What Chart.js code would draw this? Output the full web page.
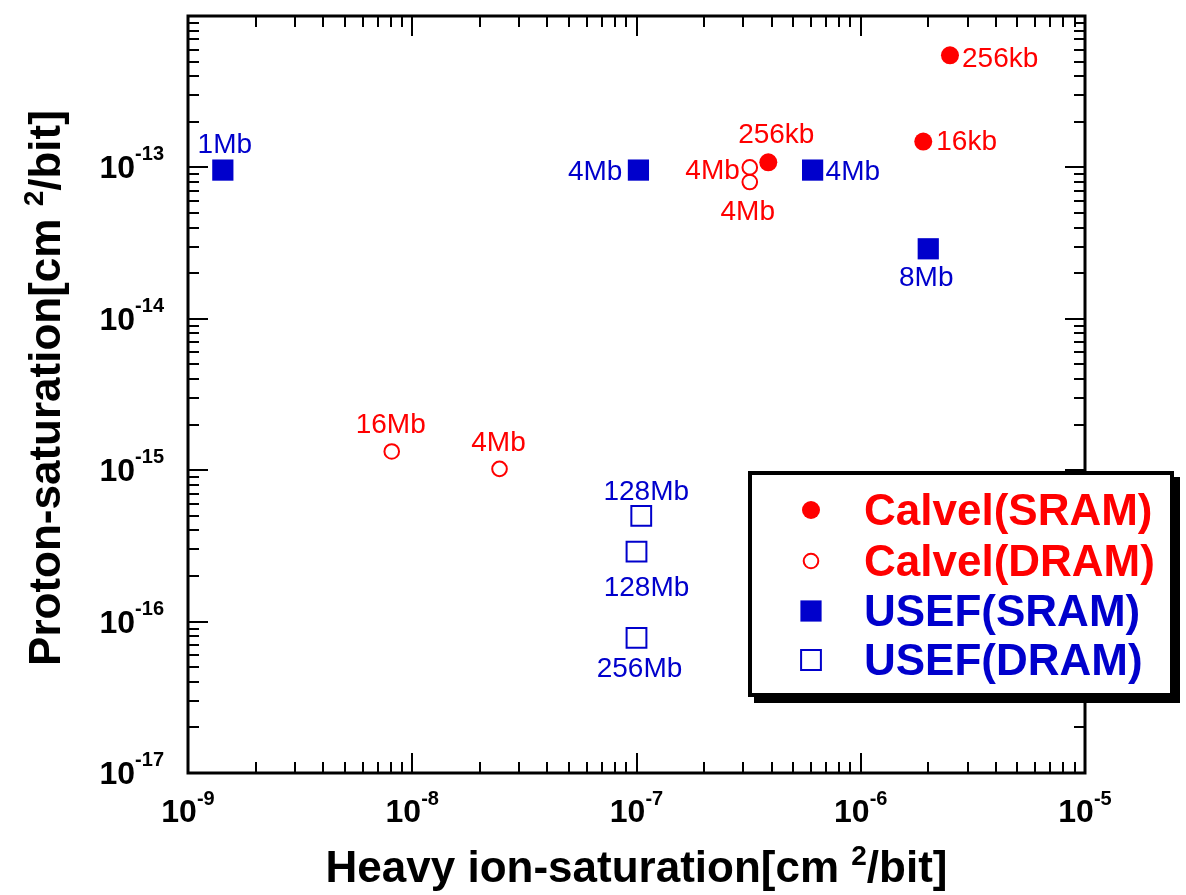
<!DOCTYPE html>
<html>
<head>
<meta charset="utf-8">
<script src="https://cdn.jsdelivr.net/npm/chart.js@4.4.1/dist/chart.umd.min.js"></script>
<style>
  html, body { margin: 0; padding: 0; background: #ffffff; }
  canvas { display: block; }
</style>
</head>
<body>
<canvas id="chart" width="1186" height="895"></canvas>
<script>
// ---- data -------------------------------------------------------------
const seriesNames = ['Calvel(SRAM)', 'Calvel(DRAM)', 'USEF(SRAM)', 'USEF(DRAM)'];

// heavy-ion saturation cross-section [cm^2/bit]
const calvelSramX = [2.50e-6, 1.90e-6, 3.87e-7];
const calvelDramX = [3.2e-7, 3.2e-7, 8.1e-9, 2.45e-8];
const usefSramX   = [1.43e-9, 1.02e-7, 6.1e-7, 2.0e-6];
const usefDramX   = [1.05e-7, 1.0e-7, 1.0e-7];

// proton saturation cross-section [cm^2/bit]
const calvelSramY = [5.5e-13, 1.48e-13, 1.08e-13];
const calvelDramY = [1.0e-13, 8.0e-14, 1.33e-15, 1.02e-15];
const usefSramY   = [9.6e-14, 9.6e-14, 9.6e-14, 2.9e-14];
const usefDramY   = [5.0e-16, 2.9e-16, 7.8e-17];

// device density of each point
const calvelSramNames = ['256kb', '16kb', '256kb'];
const calvelDramNames = ['4Mb', '4Mb', '16Mb', '4Mb'];
const usefSramNames   = ['1Mb', '4Mb', '4Mb', '8Mb'];
const usefDramNames   = ['128Mb', '128Mb', '256Mb'];

// axis decades (powers of ten) and their tick labels
const xDecades = [-9, -8, -7, -6, -5];
const yDecades = [-17, -16, -15, -14, -13, -12];
const xTickLabels = ['-9', '-8', '-7', '-6', '-5'];
const yTickLabels = ['-17', '-16', '-15', '-14', '-13'];

const xTitle = ['Heavy ion-saturation[cm ', '2', '/bit]'];
const yTitle = ['Proton-saturation[cm ', '2', '/bit]'];

// ---- styling ----------------------------------------------------------
const RED = '#ff0000';
const BLUE = '#0000cc';
const FONT = '"Liberation Sans", Arial, Helvetica, sans-serif';

// label placement around each marker: [dx, dy, align]
const labelPlacement = [
  [[12, 12, 'left'], [13, 8, 'left'], [8, -19, 'center']],
  [[-10, 12, 'right'], [-2, 38, 'center'], [-1, -18, 'center'], [-1, -18, 'center']],
  [[2, -17, 'center'], [-16, 10, 'right'], [13, 10, 'left'], [-2, 37, 'center']],
  [[5, -16, 'center'], [10, 44, 'center'], [3, 39, 'center']]
];
const pointNames = [calvelSramNames, calvelDramNames, usefSramNames, usefDramNames];

function toPoints(xs, ys) {
  return xs.map((x, i) => ({ x: x, y: ys[i] }));
}

const datasets = [
  { label: seriesNames[0], data: toPoints(calvelSramX, calvelSramY),
    pointStyle: 'circle', pointRadius: 9, borderWidth: 0,
    backgroundColor: RED, borderColor: RED, color: RED },
  { label: seriesNames[1], data: toPoints(calvelDramX, calvelDramY),
    pointStyle: 'circle', pointRadius: 7.3, borderWidth: 2,
    backgroundColor: 'rgba(0,0,0,0)', borderColor: RED, color: RED },
  { label: seriesNames[2], data: toPoints(usefSramX, usefSramY),
    pointStyle: 'rect', pointRadius: 15, borderWidth: 0,
    backgroundColor: BLUE, borderColor: BLUE, color: BLUE },
  { label: seriesNames[3], data: toPoints(usefDramX, usefDramY),
    pointStyle: 'rect', pointRadius: 14, borderWidth: 2,
    backgroundColor: 'rgba(0,0,0,0)', borderColor: BLUE, color: BLUE }
];
datasets.forEach(d => { d.pointHoverRadius = d.pointRadius; d.showLine = false; });

// ---- helpers ----------------------------------------------------------
function drawMarker(ctx, ds, x, y) {
  ctx.save();
  ctx.fillStyle = ds.backgroundColor;
  ctx.strokeStyle = ds.borderColor;
  ctx.lineWidth = ds.borderWidth;
  const opts = { pointStyle: ds.pointStyle, radius: ds.pointRadius, rotation: 0, borderWidth: ds.borderWidth };
  if (Chart.helpers && Chart.helpers.drawPoint) {
    Chart.helpers.drawPoint(ctx, opts, x, y);
  } else {
    ctx.beginPath();
    if (ds.pointStyle === 'circle') {
      ctx.arc(x, y, ds.pointRadius, 0, Math.PI * 2);
    } else {
      const s = ds.pointRadius * Math.SQRT1_2;
      ctx.rect(x - s, y - s, 2 * s, 2 * s);
    }
    ctx.fill();
    if (ds.borderWidth > 0) ctx.stroke();
  }
  ctx.restore();
}

// draws "main" + raised "sup" starting at x (left), baseline y
function drawPower(ctx, main, sup, x, y, mainFont, supFont, rise) {
  ctx.font = mainFont;
  ctx.textAlign = 'left';
  ctx.textBaseline = 'alphabetic';
  ctx.fillText(main, x, y);
  const w = ctx.measureText(main).width;
  ctx.font = supFont;
  ctx.fillText(sup, x + w, y - rise);
}
function powerWidth(ctx, main, sup, mainFont, supFont) {
  ctx.font = mainFont;
  const a = ctx.measureText(main).width;
  ctx.font = supFont;
  return a + ctx.measureText(sup).width;
}

function drawTitle(ctx, parts, cx, baseY, mainFont, supFont, rise) {
  ctx.font = mainFont;
  const w0 = ctx.measureText(parts[0]).width;
  const w2 = ctx.measureText(parts[2]).width;
  ctx.font = supFont;
  const w1 = ctx.measureText(parts[1]).width;
  let x = cx - (w0 + w1 + w2) / 2;
  ctx.textAlign = 'left';
  ctx.textBaseline = 'alphabetic';
  ctx.font = mainFont;
  ctx.fillText(parts[0], x, baseY);
  x += w0;
  ctx.font = supFont;
  ctx.fillText(parts[1], x, baseY - rise);
  x += w1;
  ctx.font = mainFont;
  ctx.fillText(parts[2], x, baseY);
}

// ---- frame, inward ticks, tick labels and titles ------------------------
const framePlugin = {
  id: 'frame',
  beforeDatasetsDraw(chart) {
    const ctx = chart.ctx;
    const a = chart.chartArea;
    const xs = chart.scales.x, ys = chart.scales.y;
    ctx.save();
    ctx.strokeStyle = '#000';
    ctx.lineCap = 'butt';

    // minor and major ticks on all four sides, pointing inward
    ctx.lineWidth = 2;
    ctx.beginPath();
    for (let i = 0; i < xDecades.length; i++) {
      const last = i === xDecades.length - 1;
      for (let m = 1; m <= (last ? 1 : 9); m++) {
        const px = Math.round(xs.getPixelForValue(m * Math.pow(10, xDecades[i])));
        const len = m === 1 ? 20 : 11;
        ctx.moveTo(px, a.bottom); ctx.lineTo(px, a.bottom - len);
        ctx.moveTo(px, a.top); ctx.lineTo(px, a.top + len);
      }
    }
    for (let i = 0; i < yDecades.length; i++) {
      const last = i === yDecades.length - 1;
      for (let m = 1; m <= (last ? 1 : 9); m++) {
        const py = Math.round(ys.getPixelForValue(m * Math.pow(10, yDecades[i])));
        const len = m === 1 ? 20 : 11;
        ctx.moveTo(a.left, py); ctx.lineTo(a.left + len, py);
        ctx.moveTo(a.right, py); ctx.lineTo(a.right - len, py);
      }
    }
    ctx.stroke();

    // plot frame
    ctx.lineWidth = 3;
    ctx.strokeRect(a.left, a.top, a.right - a.left, a.bottom - a.top);

    // tick labels
    ctx.fillStyle = '#000';
    const mainFont = 'bold 32px ' + FONT;
    const supFont = 'bold 20px ' + FONT;
    xTickLabels.forEach((lab, i) => {
      const px = xs.getPixelForValue(Math.pow(10, xDecades[i]));
      const w = powerWidth(ctx, '10', lab, mainFont, supFont);
      drawPower(ctx, '10', lab, px - w / 2, a.bottom + 49, mainFont, supFont, 17);
    });
    yTickLabels.forEach((lab, i) => {
      const py = ys.getPixelForValue(Math.pow(10, yDecades[i]));
      const w = powerWidth(ctx, '10', lab, mainFont, supFont);
      drawPower(ctx, '10', lab, a.left - 24 - w, py + 11, mainFont, supFont, 18);
    });

    // axis titles
    const tMain = 'bold 44px ' + FONT;
    const tSup = 'bold 28px ' + FONT;
    drawTitle(ctx, xTitle, (a.left + a.right) / 2, 882, tMain, tSup, 17);
    ctx.save();
    ctx.translate(60, 388);
    ctx.rotate(-Math.PI / 2);
    drawTitle(ctx, yTitle, 0, 0, tMain, tSup, 17);
    ctx.restore();

    ctx.restore();
  },

  // point labels and the legend box
  afterDatasetsDraw(chart) {
    const ctx = chart.ctx;
    ctx.save();
    ctx.font = '28px ' + FONT;
    ctx.textBaseline = 'alphabetic';
    chart.data.datasets.forEach((ds, di) => {
      const meta = chart.getDatasetMeta(di);
      ctx.fillStyle = ds.color;
      meta.data.forEach((el, i) => {
        const p = labelPlacement[di][i];
        ctx.textAlign = p[2];
        ctx.fillText(pointNames[di][i], el.x + p[0], el.y + p[1]);
      });
    });

    // legend box with drop shadow
    const bx = 750, by = 473, bw = 422, bh = 222;
    ctx.fillStyle = '#000';
    ctx.fillRect(bx + 4, by + 4, bw + 4, bh + 4);
    ctx.fillStyle = '#fff';
    ctx.fillRect(bx, by, bw, bh);
    ctx.strokeStyle = '#000';
    ctx.lineWidth = 4;
    ctx.strokeRect(bx, by, bw, bh);

    const rowBase = [525, 576, 626, 675];
    ctx.font = 'bold 44px ' + FONT;
    ctx.textAlign = 'left';
    chart.data.datasets.forEach((ds, di) => {
      drawMarker(ctx, ds, 811, rowBase[di] - 15);
      ctx.fillStyle = ds.color;
      ctx.fillText(ds.label, 864, rowBase[di]);
    });
    ctx.restore();
  }
};

new Chart(document.getElementById('chart'), {
  type: 'scatter',
  data: { datasets: datasets },
  options: {
    responsive: false,
    animation: false,
    events: [],
    layout: { padding: { left: 188, top: 14, right: 101, bottom: 122 } },
    scales: {
      x: { type: 'logarithmic', min: 1e-9, max: 1e-5, display: false },
      y: { type: 'logarithmic', min: 1e-17, max: 1e-12, display: false }
    },
    plugins: {
      legend: { display: false },
      tooltip: { enabled: false }
    }
  },
  plugins: [framePlugin]
});
</script>
</body>
</html>
